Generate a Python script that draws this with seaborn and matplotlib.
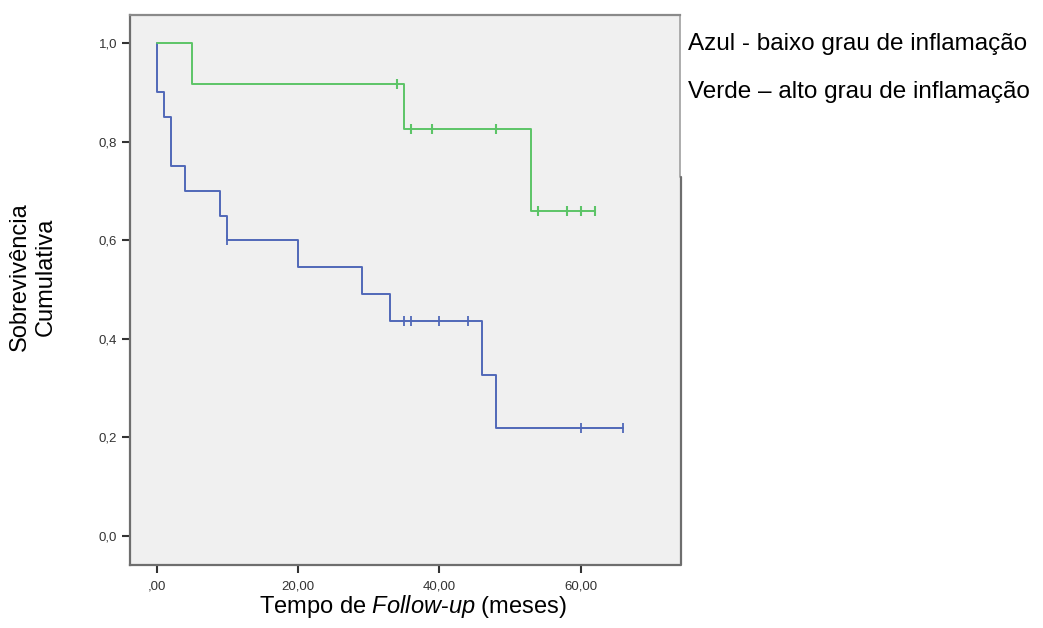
import matplotlib
matplotlib.use("Agg")
import matplotlib.pyplot as plt
from matplotlib.lines import Line2D
import seaborn as sns
import pandas as pd

# ---- data ----
blue_times = [0, 0, 1, 2, 4, 9, 10, 20, 29, 33, 46, 48, 66]
blue_surv = [1.0, 0.90, 0.85, 0.75, 0.70, 0.65, 0.60, 0.545, 0.491, 0.436, 0.327, 0.218, 0.218]
blue_cens_times = [10, 35, 36, 40, 44, 60, 66]
blue_cens_surv = [0.60, 0.436, 0.436, 0.436, 0.436, 0.218, 0.218]

green_times = [0, 5, 35, 53, 62]
green_surv = [1.0, 0.917, 0.825, 0.66, 0.66]
green_cens_times = [34, 36, 39, 48, 54, 58, 60, 62]
green_cens_surv = [0.917, 0.825, 0.825, 0.825, 0.66, 0.66, 0.66, 0.66]

x_ticks = [0, 20, 40, 60]
x_tick_labels = [",00", "20,00", "40,00", "60,00"]
y_ticks = [0.0, 0.2, 0.4, 0.6, 0.8, 1.0]
y_tick_labels = ["0,0", "0,2", "0,4", "0,6", "0,8", "1,0"]

legend_lines = ["Azul - baixo grau de inflamação", "Verde – alto grau de inflamação"]
ylabel_text = "Sobrevivência\nCumulativa"

BLUE = "#5068b8"
GREEN = "#5cc467"

sns.set_style("white")
plt.rcParams["font.family"] = ["Liberation Sans", "DejaVu Sans"]
plt.rcParams["mathtext.fontset"] = "custom"
plt.rcParams["mathtext.rm"] = "Liberation Sans"
plt.rcParams["mathtext.it"] = "Liberation Sans:italic"
plt.rcParams["text.color"] = "black"

fig = plt.figure(figsize=(10.43, 6.28), dpi=100)
ax = fig.add_axes([129.5 / 1043, 1 - 565 / 628, 550 / 1043, 550 / 628])
ax.set_facecolor("#f0f0f0")

df_b = pd.DataFrame({"t": blue_times, "s": blue_surv})
df_g = pd.DataFrame({"t": green_times, "s": green_surv})
sns.lineplot(data=df_b, x="t", y="s", drawstyle="steps-post", estimator=None,
             sort=False, color=BLUE, linewidth=1.4, ax=ax)
sns.lineplot(data=df_g, x="t", y="s", drawstyle="steps-post", estimator=None,
             sort=False, color=GREEN, linewidth=1.4, ax=ax)
sns.scatterplot(x=blue_cens_times, y=blue_cens_surv, marker="|", s=45,
                color=BLUE, linewidth=1.3, ax=ax, zorder=5)
sns.scatterplot(x=green_cens_times, y=green_cens_surv, marker="|", s=45,
                color=GREEN, linewidth=1.5, ax=ax, zorder=5)

ax.set_xlim(-3.82, 73.97)
ax.set_ylim(-0.059, 1.057)
ax.set_xticks(x_ticks)
ax.set_xticklabels(x_tick_labels)
ax.set_yticks(y_ticks)
ax.set_yticklabels(y_tick_labels)
ax.set_xlabel("")
ax.set_ylabel("")
ax.tick_params(axis="both", which="major", bottom=True, left=True,
               direction="out", length=6, width=1.5,
               color="#333333", labelsize=9.5, labelcolor="#333333")
ax.tick_params(axis="x", pad=5)
ax.tick_params(axis="y", pad=3)

for side in ["left", "bottom", "top"]:
    ax.spines[side].set_color("#6e6e6e")
    ax.spines[side].set_linewidth(1.6)
ax.spines["top"].set_color("#8a8a8a")
ax.spines["right"].set_visible(False)
brk = (565 - 177) / 550
ax.add_line(Line2D([1, 1], [brk, 1], transform=ax.transAxes, color="#a0a0a0",
                   linewidth=1.2, clip_on=False))
ax.add_line(Line2D([1.0025, 1.0025], [0, brk], transform=ax.transAxes, color="#6e6e6e",
                   linewidth=1.6, clip_on=False))

# axis labels
fig.text(33 / 1043, 1 - 277 / 628, ylabel_text, rotation=90, ha="center",
         va="center", fontsize=17, multialignment="center", linespacing=1.25)
xl = r"Tempo de $\mathit{Follow}$-$\mathit{up}$ (meses)"
fig.text(413 / 1043, 1 - 607 / 628, xl, ha="center", va="center", fontsize=17)

# legend text
fig.text(688 / 1043, 1 - 44 / 628, legend_lines[0], ha="left", va="center", fontsize=17.5)
fig.text(688 / 1043, 1 - 92 / 628, legend_lines[1], ha="left", va="center", fontsize=17.5)

fig.savefig("out.png", dpi=100)
